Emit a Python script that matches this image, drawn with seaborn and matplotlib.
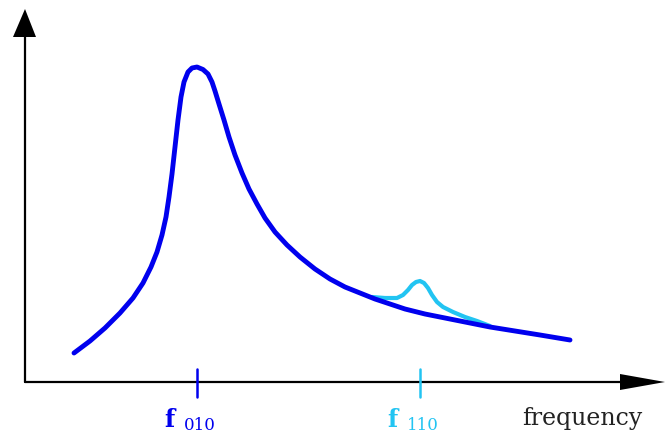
import pandas as pd
import matplotlib
matplotlib.use("Agg")
import matplotlib.pyplot as plt
import seaborn as sns

# main resonance (mode 010)
freq_010 = [49, 65, 80, 95, 108, 118, 126, 132, 137, 141, 144, 147, 150, 153, 156,
            159, 163, 167, 172, 178, 183, 187, 190, 194, 199, 204, 210, 217, 224,
            232, 240, 250, 262, 275, 290, 305, 320, 335, 350, 365, 380, 400, 420,
            440, 465, 490, 515, 545]
amp_010 = [29, 41, 54, 69, 84, 99, 115, 130, 147, 165, 185, 208, 235, 262, 285,
           300, 310, 314, 315, 312.5, 308, 300, 291, 278, 262, 245, 227, 209, 193,
           178, 164, 150, 137, 125, 113, 103, 95, 89, 83, 78, 73, 68, 64,
           60, 55, 51, 47, 42]

# small second resonance (mode 110) on the tail
freq_110 = [347, 360, 372, 378, 383, 387, 391, 395, 399, 403, 407, 412, 418, 428,
            440, 452, 465]
amp_110 = [85, 84, 84, 87, 92, 97, 100, 101, 99, 94, 87, 80, 75, 70, 65, 61, 56]

peaks = [172, 395]
peak_labels = ["010", "110"]

blue = "#0000ee"
cyan = "#22c4f2"

sns.set_style("white")
fig = plt.figure(figsize=(6.66, 4.33), dpi=100)
ax = fig.add_axes([0, 0, 1, 1])

df1 = pd.DataFrame({"f": freq_010, "a": amp_010})
df2 = pd.DataFrame({"f": freq_110, "a": amp_110})
sns.lineplot(data=df2, x="f", y="a", sort=False, estimator=None, color=cyan,
             lw=3.0, ax=ax, solid_capstyle="round", solid_joinstyle="round")
sns.lineplot(data=df1, x="f", y="a", sort=False, estimator=None, color=blue,
             lw=3.5, ax=ax, solid_capstyle="round", solid_joinstyle="round")

# hand drawn style axes with arrows
ax.plot([0, 0], [0, 347], color="black", lw=1.6)
ax.plot([0, 597], [0, 0], color="black", lw=1.6)
ax.fill([-12, 11, 0], [345, 345, 373], color="black", lw=0)
ax.fill([595, 595, 640], [8, -8, 0], color="black", lw=0)

# marks on the frequency axis
for xp, sub, c in zip(peaks, peak_labels, [blue, cyan]):
    ax.plot([xp, xp], [13, -15], color=c, lw=1.8)
    ax.text(xp - 33, -45, "f", color=c, fontsize=17, fontweight="bold",
            family="DejaVu Serif", ha="left", va="baseline")
    ax.text(xp - 13, -47.5, sub, color=c, fontsize=12,
            family="DejaVu Serif", ha="left", va="baseline")

ax.text(497, -43, "frequency", color="#222222", fontsize=17,
        family="DejaVu Serif", ha="left", va="baseline")

ax.set_xlim(-25, 641)
ax.set_ylim(-51, 382)
ax.set_axis_off()

fig.savefig("out.png", dpi=100)
